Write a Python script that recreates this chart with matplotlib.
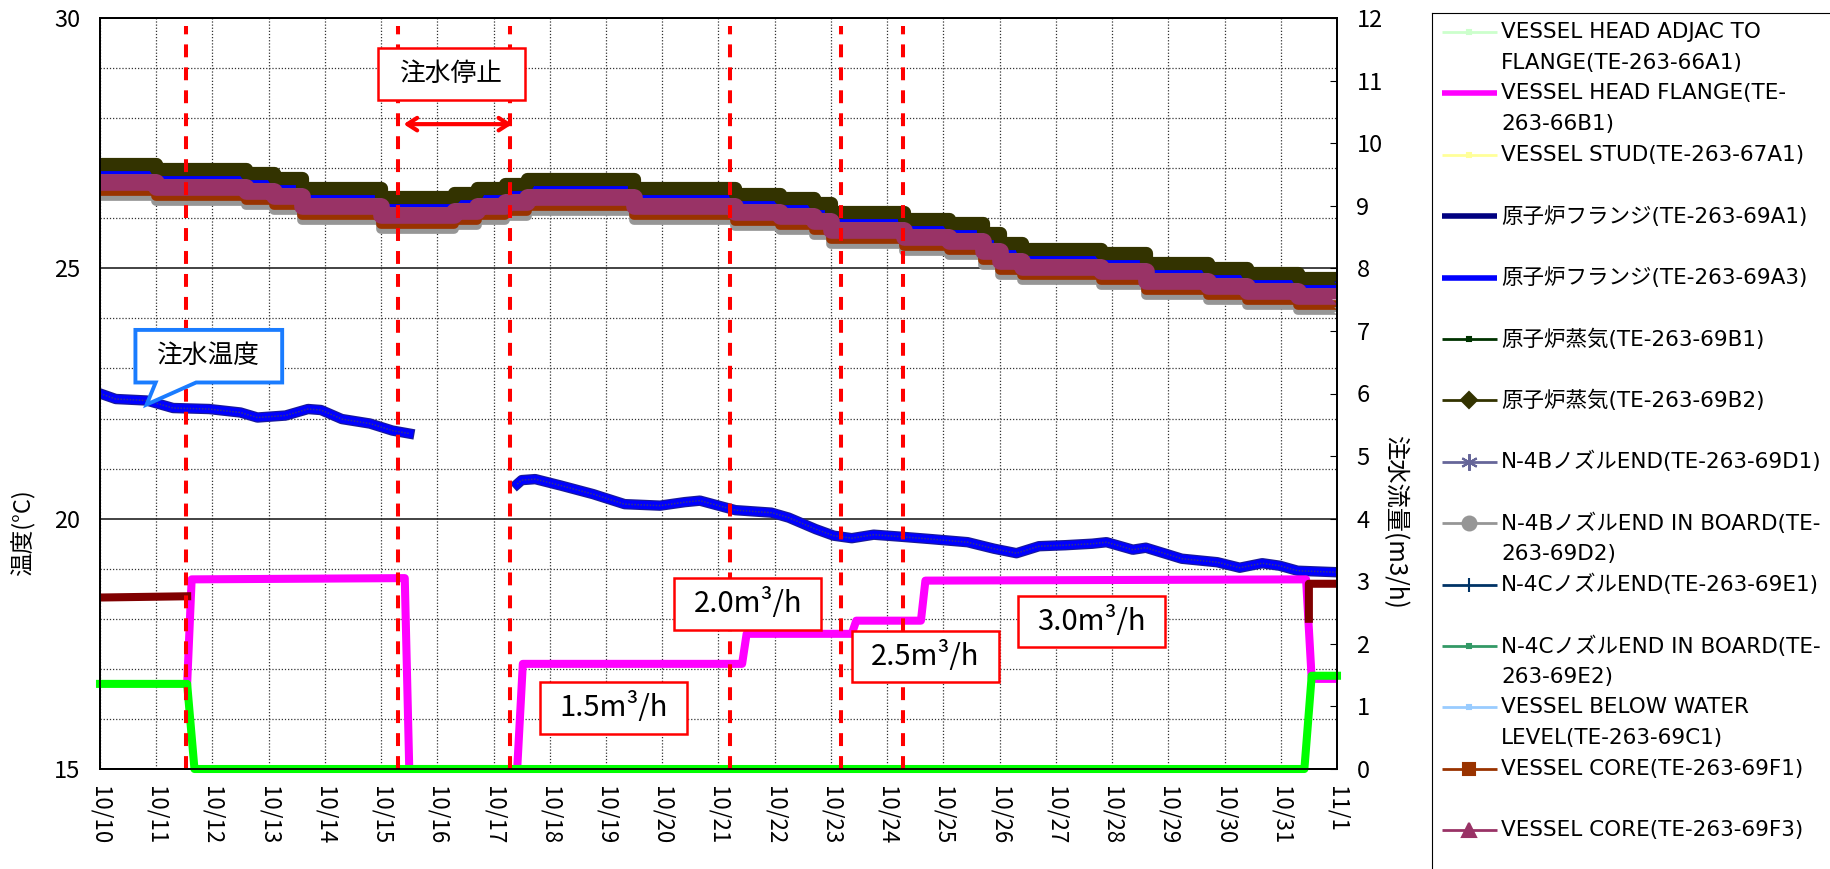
import matplotlib.pyplot as plt
from matplotlib.patches import Rectangle, Polygon
import numpy as np

plt.rcParams['font.family'] = ['Noto Sans CJK JP', 'DejaVu Sans']

# x axis: days counted from 10/10
dates = ['10/10', '10/11', '10/12', '10/13', '10/14', '10/15', '10/16', '10/17', '10/18', '10/19', '10/20',
         '10/21', '10/22', '10/23', '10/24', '10/25', '10/26', '10/27', '10/28', '10/29', '10/30', '10/31', '11/1']

# vessel temperatures (step data, degC)
t_temp = [0, 1.0, 2.6, 3.1, 3.6, 5.0, 6.3, 6.7, 7.2, 7.6, 9.5, 11.3, 12.1, 12.7, 13.0, 14.3, 15.1, 15.7,
          16.0, 16.4, 17.8, 18.6, 19.7, 20.4, 21.3, 22.0]
te_69b2 = [27.08, 26.98, 26.9, 26.8, 26.6, 26.42, 26.5, 26.6, 26.68, 26.78, 26.6, 26.48, 26.4, 26.3, 26.12,
           25.98, 25.9, 25.7, 25.5, 25.39, 25.3, 25.1, 25.0, 24.9, 24.8, 24.75]
te_69a1 = [26.96, 26.86, 26.78, 26.68, 26.48, 26.3, 26.38, 26.48, 26.56, 26.66, 26.48, 26.36, 26.28, 26.18, 26.0,
           25.86, 25.78, 25.58, 25.38, 25.27, 25.18, 24.98, 24.88, 24.78, 24.68, 24.63]
te_69a3 = [26.92, 26.82, 26.74, 26.64, 26.44, 26.26, 26.34, 26.44, 26.52, 26.62, 26.44, 26.32, 26.24, 26.14, 25.96,
           25.82, 25.74, 25.54, 25.34, 25.23, 25.14, 24.94, 24.84, 24.74, 24.64, 24.59]
te_69d1 = [26.86, 26.76, 26.68, 26.58, 26.38, 26.2, 26.28, 26.38, 26.46, 26.56, 26.38, 26.26, 26.18, 26.08, 25.9,
           25.76, 25.68, 25.48, 25.28, 25.17, 25.08, 24.88, 24.78, 24.68, 24.58, 24.53]
te_69f3 = [26.72, 26.62, 26.54, 26.44, 26.24, 26.06, 26.14, 26.24, 26.32, 26.42, 26.24, 26.12, 26.04, 25.94, 25.76,
           25.62, 25.54, 25.34, 25.14, 25.03, 24.94, 24.74, 24.64, 24.54, 24.44, 24.39]
te_69f1 = [26.55, 26.45, 26.37, 26.27, 26.07, 25.89, 25.97, 26.07, 26.15, 26.25, 26.07, 25.95, 25.87, 25.77, 25.59,
           25.45, 25.37, 25.17, 24.97, 24.86, 24.77, 24.57, 24.47, 24.37, 24.27, 24.22]
te_69d2 = [26.45, 26.35, 26.27, 26.17, 25.97, 25.79, 25.87, 25.97, 26.05, 26.15, 25.97, 25.85, 25.77, 25.67, 25.49,
           25.35, 25.27, 25.07, 24.87, 24.76, 24.67, 24.47, 24.37, 24.27, 24.17, 24.12]

# injection water temperature (degC)
t_inj1 = [0, 0.28, 0.83, 1.3, 1.94, 2.5, 2.8, 3.3, 3.7, 3.93, 4.3, 4.8, 5.2, 5.5]
inj1 = [22.5, 22.39, 22.36, 22.21, 22.19, 22.12, 22.02, 22.06, 22.19, 22.17, 21.99, 21.9, 21.76, 21.7]
t_inj2 = [7.42, 7.5, 7.74, 8.2, 8.77, 9.33, 9.96, 10.4, 10.67, 11.0, 11.3, 11.94, 12.25, 12.73, 13.05, 13.37,
          13.76, 14.24, 14.8, 15.43, 15.9, 16.3, 16.7, 17.17, 17.65, 17.9, 18.37, 18.6, 19.24, 19.87, 20.27,
          20.67, 20.98, 21.3, 22.0]
inj2 = [20.69, 20.77, 20.79, 20.66, 20.49, 20.29, 20.26, 20.33, 20.36, 20.26, 20.17, 20.12, 20.02, 19.79, 19.66,
        19.61, 19.68, 19.64, 19.59, 19.53, 19.4, 19.31, 19.45, 19.47, 19.5, 19.53, 19.38, 19.42, 19.2, 19.13,
        19.02, 19.11, 19.06, 18.96, 18.93]

# flows (m3/h, right axis)
t_flow_m = [1.55, 1.63, 5.42, 5.5, 7.42, 7.52, 11.42, 11.5, 13.37, 13.45, 14.6, 14.68, 21.45, 21.55, 22.0]
flow_m = [1.36, 3.03, 3.05, 0, 0, 1.68, 1.68, 2.16, 2.16, 2.37, 2.37, 3.01, 3.03, 1.44, 1.44]
t_flow_g = [0, 1.55, 1.68, 21.42, 21.55, 22.0]
flow_g = [1.36, 1.36, 0, 0, 1.49, 1.49]
t_flow_r = [0, 1.55, np.nan, 21.5, 21.5, 22.0]
flow_r = [2.74, 2.76, np.nan, 2.4, 2.96, 2.96]

events = [1.53, 5.3, 7.29, 11.2, 13.17, 14.28]

fig = plt.figure(figsize=(18.31, 8.69), dpi=100)
ax = fig.add_axes([100 / 1831, 1 - 769 / 869, 1237 / 1831, 751 / 869])
ax2 = ax.twinx()

ax.set_xlim(0, 22)
ax.set_ylim(15, 30)
ax2.set_ylim(0, 12)

ax.set_xticks(range(23))
ax.set_xticklabels(dates, rotation=270, fontsize=16)
ax.set_yticks([15, 20, 25, 30])
ax.set_yticks(range(15, 31), minor=True)
ax.tick_params(axis='x', length=0, pad=12)
ax.tick_params(axis='y', which='both', length=0, labelsize=17, pad=14)
ax.grid(axis='x', color='#333333', lw=0.9, ls=(0, (1, 1.5)))
ax.grid(axis='y', which='minor', color='#333333', lw=0.9, ls=(0, (1, 1.5)))
ax.grid(axis='y', which='major', color='#222222', lw=1.2, ls='-')
ax2.set_yticks(range(13))
ax2.tick_params(axis='y', direction='in', length=5, labelsize=17, pad=14)
for a in (ax, ax2):
    for s in a.spines.values():
        s.set_linewidth(1.3)

sk = dict(drawstyle='steps-post', solid_capstyle='butt')
ax.plot(t_temp, te_69d2, color='#969696', lw=7, **sk)
ax.plot(t_temp, te_69f1, color='#993300', lw=7, **sk)
ax.plot(t_temp, te_69a1, color='#000080', lw=7, **sk)
ax.plot(t_temp, te_69a3, color='#0000ff', lw=6, **sk)
ax.plot(t_temp, te_69b2, color='#333300', lw=9.5, **sk)
ax.plot(t_temp, te_69d1, color='#666699', lw=2, **sk)
ax.plot(t_temp, te_69f3, color='#993366', lw=12, **sk)

for tt, vv in ((t_inj1, inj1), (t_inj2, inj2)):
    ax.plot(tt, vv, color='#1a1a99', lw=7.5)
    ax.plot(tt, vv, color='#0000ff', lw=5.8)
    ax.plot(tt, vv, color='#333388', lw=1.1, ls=(0, (1, 1)))

ax2.plot(t_flow_m, flow_m, color='#ff00ff', lw=5.8)
ax2.plot(t_flow_r, flow_r, color='#800000', lw=5.8)
ax2.plot(t_flow_g, flow_g, color='#00ff00', lw=5.8, clip_on=False)

for x in events:
    ax2.axvline(x, ymin=0, ymax=0.99, color='#ff0000', lw=2.9, ls=(0, (3.2, 2.5)))


def box_label(x, y, text, ec, fs=21):
    ax2.add_patch(Rectangle((x - 1.305, y - 0.515), 2.61, 1.03, transform=ax.transData,
                            fc='white', ec=ec, lw=1.8, zorder=5))
    ax2.text(x, y, text, transform=ax.transData, ha='center', va='center', fontsize=fs, zorder=6)


box_label(6.25, 28.88, '注水停止', '#ff0000', 18.5)
box_label(9.13, 16.22, '1.5m³/h', '#ff0000')
box_label(11.52, 18.3, '2.0m³/h', '#ff0000')
box_label(14.68, 17.25, '2.5m³/h', '#ff0000')
box_label(17.63, 17.95, '3.0m³/h', '#ff0000')

ax2.annotate('', xy=(5.35, 27.88), xytext=(7.38, 27.88), xycoords=ax.transData, textcoords=ax.transData,
             arrowprops=dict(arrowstyle='<->,head_length=0.7,head_width=0.45', color='#ff0000', lw=3))

callout = [(0.63, 23.77), (3.24, 23.77), (3.24, 22.72), (1.71, 22.72), (0.83, 22.28), (0.99, 22.72), (0.63, 22.72)]
ax2.add_patch(Polygon(callout, closed=True, transform=ax.transData, fc='white', ec='#1a7cff', lw=2.8, zorder=5))
ax2.text(1.93, 23.25, '注水温度', transform=ax.transData, ha='center', va='center', fontsize=18.5, zorder=6)

fig.text(23 / 1831, 1 - 533 / 869, '温度(°C)', rotation=90, ha='center', va='center', fontsize=17)
fig.text(1395 / 1831, 1 - 522 / 869, '注水流量(m3/h)', rotation=270, ha='center', va='center', fontsize=17.5)

# legend drawn in pixel coordinates
lax = fig.add_axes([1432 / 1831, -20 / 869, 500 / 1831, 876 / 869])
lax.set_xlim(1432, 1932)
lax.set_ylim(889, 13)
lax.set_xticks([])
lax.set_yticks([])
lax.spines['right'].set_visible(False)
lax.spines['bottom'].set_visible(False)
lax.patch.set_alpha(0)

legend_items = [
    (['VESSEL HEAD ADJAC TO', 'FLANGE(TE-263-66A1)'], '#ccffcc', 2, 's', 3),
    (['VESSEL HEAD FLANGE(TE-', '263-66B1)'], '#ff00ff', 4, None, 0),
    (['VESSEL STUD(TE-263-67A1)'], '#ffff99', 2, 's', 3),
    (['原子炉フランジ(TE-263-69A1)'], '#000080', 4, None, 0),
    (['原子炉フランジ(TE-263-69A3)'], '#0000ff', 4, None, 0),
    (['原子炉蒸気(TE-263-69B1)'], '#003300', 2, 's', 3),
    (['原子炉蒸気(TE-263-69B2)'], '#333300', 2, 'D', 8),
    (['N-4BノズルEND(TE-263-69D1)'], '#666699', 2, (6, 2, 0), 12),
    (['N-4BノズルEND IN BOARD(TE-', '263-69D2)'], '#969696', 2, 'o', 10),
    (['N-4CノズルEND(TE-263-69E1)'], '#003366', 2, '|', 10),
    (['N-4CノズルEND IN BOARD(TE-', '263-69E2)'], '#339966', 2, 's', 3),
    (['VESSEL BELOW WATER', 'LEVEL(TE-263-69C1)'], '#99ccff', 2, 's', 3),
    (['VESSEL CORE(TE-263-69F1)'], '#993300', 2, 's', 9),
    (['VESSEL CORE(TE-263-69F3)'], '#993366', 2, '^', 10),
]
for i, (lines, col, lw, mk, ms) in enumerate(legend_items):
    y = 32 + i * 61.4
    lax.plot([1442, 1497], [y, y], color=col, lw=lw, solid_capstyle='butt')
    if mk is not None:
        lax.plot([1469.5], [y], marker=mk, ms=ms, color=col, mec=col, mew=1.5)
    for k, txt in enumerate(lines):
        lax.text(1501, y + k * 31, txt, ha='left', va='center', fontsize=15.5,
                 family=['DejaVu Sans', 'Noto Sans CJK JP'])

fig.savefig('out.png', dpi=100)
